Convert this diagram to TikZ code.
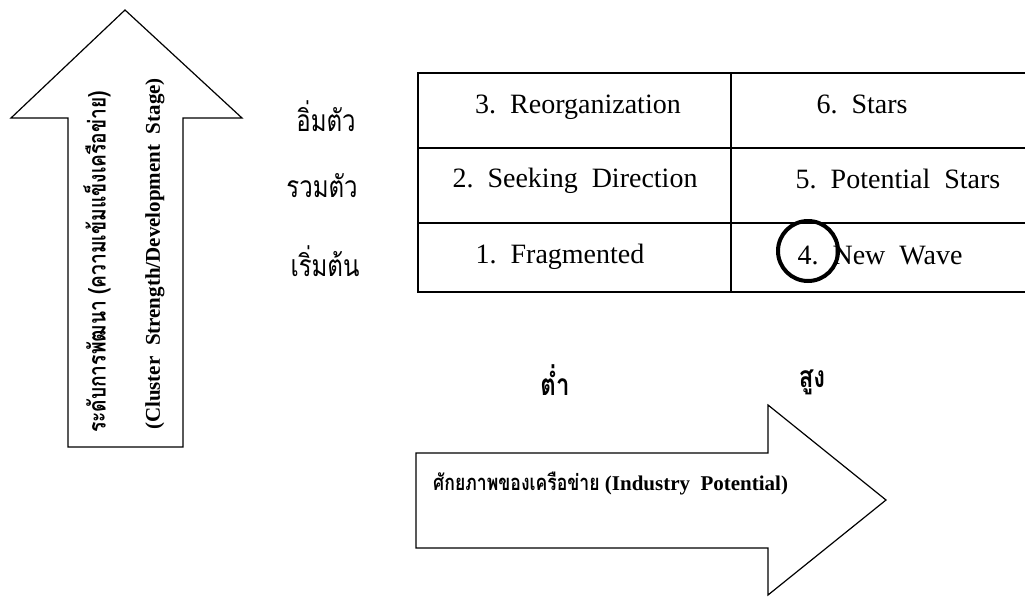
\documentclass[tikz,border=0pt]{standalone}
\usepackage{fontspec}
\setmainfont{Liberation Serif}
\newfontfamily\thaifont[Script=Thai, FakeStretch=0.8]{Loma}
\usetikzlibrary{calc}
\tikzset{
  bigarrow/.style={draw=black, line width=1.2pt, fill=white},
  gridline/.style={line width=2.6pt},
  celltext/.style={anchor=base, inner sep=0pt, font=\fontsize{28}{32}\selectfont},
  rowlabel/.style={inner sep=0pt, font=\thaifont\fontsize{30}{34}\selectfont},
  levellabel/.style={inner sep=0pt, font=\thaifont\bfseries\fontsize{30}{34}\selectfont},
  axistext/.style={inner sep=0pt, font=\bfseries\fontsize{21}{24}\selectfont}
}

\begin{document}
\begin{tikzpicture}[x=1pt, y=-1pt]
		%%%%% START %%%%%
		\useasboundingbox (0, 0) rectangle (1025, 597);
		
		% up arrow (development stage)
		\draw[bigarrow] (125, 10) -- (242, 118) -- (183, 118) -- (183, 447)
			-- (68, 447) -- (68, 118) -- (11, 118) -- cycle;
		\node[axistext, rotate=90] (stagethai) at (97, 262)
			{{\thaifont\fontsize{24}{28}\selectfont ระดับการพัฒนา (ความเข้มแข็งเครือข่าย)}};
		\node[axistext, rotate=90] (stageeng) at (155, 254)
			{(Cluster\ \ Strength/Development\ \ Stage)};
		
		% matrix
		\draw[gridline] (1025, 73) -- (418, 73) -- (418, 292) -- (1025, 292);
		\draw[gridline] (418, 148) -- (1025, 148);
		\draw[gridline] (418, 223) -- (1025, 223);
		\draw[gridline] (731, 73) -- (731, 292);
		
		\node[rowlabel] (mature) at (326, 116) {อิ่มตัว};
		\node[rowlabel] (merge) at (322, 186) {รวมตัว};
		\node[rowlabel] (begin) at (325, 261) {เริ่มต้น};
		
		\node[celltext] (reorg) at (578, 113) {3.\ \ Reorganization};
		\node[celltext] (stars) at (862, 113) {6.\ \ Stars};
		\node[celltext] (seeking) at (575, 187) {2.\ \ Seeking\ \ Direction};
		\node[celltext] (potstars) at (898, 188) {5.\ \ Potential\ \ Stars};
		\node[celltext] (fragment) at (560, 263) {1.\ \ Fragmented};
		\node[celltext] (newwave) at (880, 264) {4.\ \ New\ \ Wave};
		
		\draw[line width=4pt] (808, 251) circle (30);
		
		% right arrow (industry potential)
		\node[levellabel] (low) at (555, 380) {ต่ำ};
		\node[levellabel] (high) at (812, 382) {สูง};
		
		\draw[bigarrow] (416, 453) -- (768, 453) -- (768, 405) -- (886, 500)
			-- (768, 595) -- (768, 548) -- (416, 548) -- cycle;
		\node[axistext, anchor=west] (potential) at (433, 484)
			{{\thaifont\fontsize{22}{26}\selectfont ศักยภาพของเครือข่าย} (Industry\ \ Potential)};
		%%%%% END %%%%%
\end{tikzpicture}
\end{document}
